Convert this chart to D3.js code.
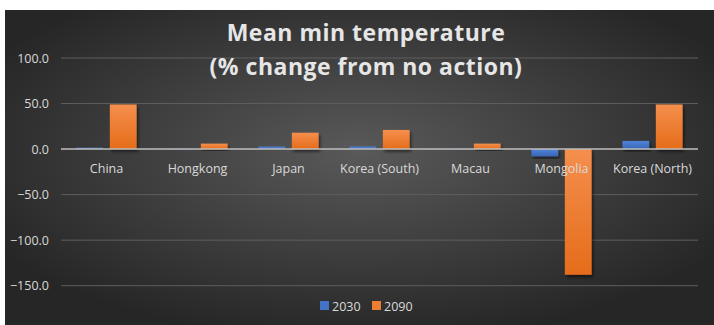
<!DOCTYPE html>
<html>
<head>
<meta charset="utf-8">
<script src="https://cdn.jsdelivr.net/npm/d3@7"></script>
<style>
  body { margin: 0; background: #fff; }
  text { font-family: "Open Sans", "DejaVu Sans", sans-serif; }
</style>
</head>
<body>
<div class="chart"></div>
<script>
// data
const countries = ["China", "Hongkong", "Japan", "Korea (South)", "Macau", "Mongolia", "Korea (North)"];
const years = ["2030", "2090"];
const v2030 = [1.5, -0.5, 2.8, 2.8, -0.4, -8.0, 9.0];
const v2090 = [49.0, 6.0, 18.0, 21.0, 6.0, -138.0, 49.0];
const yTicks = [100, 50, 0, -50, -100, -150];
const colors = {"2030": "#4472c4", "2090": "#ed7d31"};

const W = 714, H = 325;
const box = {left: 5, top: 10, right: 714, bottom: 325};
const plot = {left: 61, right: 698, top: 58, bottom: 285.7};

const svg = d3.select(".chart")
  .append("svg")
    .attr("width", W)
    .attr("height", H);

const defs = svg.append("defs");
const bg = defs.append("radialGradient")
    .attr("id", "bg")
    .attr("cx", "50%").attr("cy", "45%").attr("r", "60%");
bg.append("stop").attr("offset", "0%").attr("stop-color", "#595959");
bg.append("stop").attr("offset", "100%").attr("stop-color", "#262626");

function barGrad(id, top, bottom) {
  const g = defs.append("linearGradient")
      .attr("id", id).attr("x1", 0).attr("y1", 0).attr("x2", 0).attr("y2", 1);
  g.append("stop").attr("offset", "0%").attr("stop-color", top);
  g.append("stop").attr("offset", "100%").attr("stop-color", bottom);
}
barGrad("g2030", "#5083d8", "#3a66b6");
barGrad("g2090", "#f58f4d", "#e56c1a");

const shadow = defs.append("filter").attr("id", "shadow")
    .attr("x", "-20%").attr("y", "-20%").attr("width", "150%").attr("height", "150%");
shadow.append("feDropShadow")
    .attr("dx", 1.5).attr("dy", 2.5).attr("stdDeviation", 1.5)
    .attr("flood-color", "#000").attr("flood-opacity", 0.55);

svg.append("rect")
    .attr("x", box.left).attr("y", box.top)
    .attr("width", box.right - box.left).attr("height", box.bottom - box.top)
    .attr("fill", "url(#bg)");

// scales
const x0 = d3.scaleBand().domain(countries).range([plot.left, plot.right]);
const x1 = d3.scaleBand().domain(years).range([0, x0.bandwidth()])
    .paddingInner(0.2).paddingOuter(0.46);
const y = d3.scaleLinear().domain([-150, 100]).range([plot.bottom, plot.top]);

// gridlines
svg.append("g")
  .selectAll("line")
  .data(yTicks.filter(d => d !== 0))
  .enter()
  .append("line")
    .attr("x1", plot.left).attr("x2", plot.right)
    .attr("y1", d => y(d)).attr("y2", d => y(d))
    .attr("stroke", "#5e5e5e")
    .attr("stroke-width", 1);

// y axis labels
const yAxis = svg.append("g")
    .attr("transform", "translate(" + plot.left + ",0)")
    .call(d3.axisLeft(y).tickValues(yTicks).tickFormat(d3.format(".1f")).tickSize(0).tickPadding(12));
yAxis.select(".domain").remove();
yAxis.selectAll("text")
    .attr("fill", "#d9d9d9")
    .style("font-size", "12.5px");

// bars
const series = [{year: "2030", vals: v2030}, {year: "2090", vals: v2090}];
series.forEach(s => {
  svg.append("g")
    .selectAll("rect")
    .data(s.vals)
    .enter()
    .append("rect")
      .attr("x", (d, i) => x0(countries[i]) + x1(s.year))
      .attr("y", d => y(Math.max(0, d)))
      .attr("width", x1.bandwidth())
      .attr("height", d => Math.abs(y(d) - y(0)))
      .attr("fill", "url(#g" + s.year + ")")
      .attr("filter", "url(#shadow)");
});

// zero line
svg.append("line")
    .attr("x1", plot.left).attr("x2", plot.right)
    .attr("y1", y(0)).attr("y2", y(0))
    .attr("stroke", "#bfbfbf")
    .attr("stroke-width", 1.5);

// category labels
svg.append("g")
  .selectAll("text")
  .data(countries)
  .enter()
  .append("text")
    .attr("x", d => x0(d) + x0.bandwidth() / 2)
    .attr("y", y(0) + 24)
    .attr("text-anchor", "middle")
    .attr("fill", "#d9d9d9")
    .style("font-size", "12.5px")
    .text(d => d);

// title
const title = ["Mean min temperature", "(% change from no action)"];
svg.append("g")
  .selectAll("text")
  .data(title)
  .enter()
  .append("text")
    .attr("x", 366)
    .attr("y", (d, i) => 41 + i * 34)
    .attr("text-anchor", "middle")
    .attr("fill", "#e6e6e6")
    .style("font-size", "23px")
    .style("font-weight", "700")
    .style("letter-spacing", "0.5px")
    .text(d => d);

// legend
const legend = svg.append("g").attr("transform", "translate(320,300)");
const lx = [0, 52];
years.forEach((yr, i) => {
  legend.append("rect")
      .attr("x", lx[i]).attr("y", 1)
      .attr("width", 9).attr("height", 9)
      .attr("fill", colors[yr]);
  legend.append("text")
      .attr("x", lx[i] + 12).attr("y", 10.5)
      .attr("fill", "#d9d9d9")
      .style("font-size", "12.5px")
      .text(yr);
});
</script>
</body>
</html>
